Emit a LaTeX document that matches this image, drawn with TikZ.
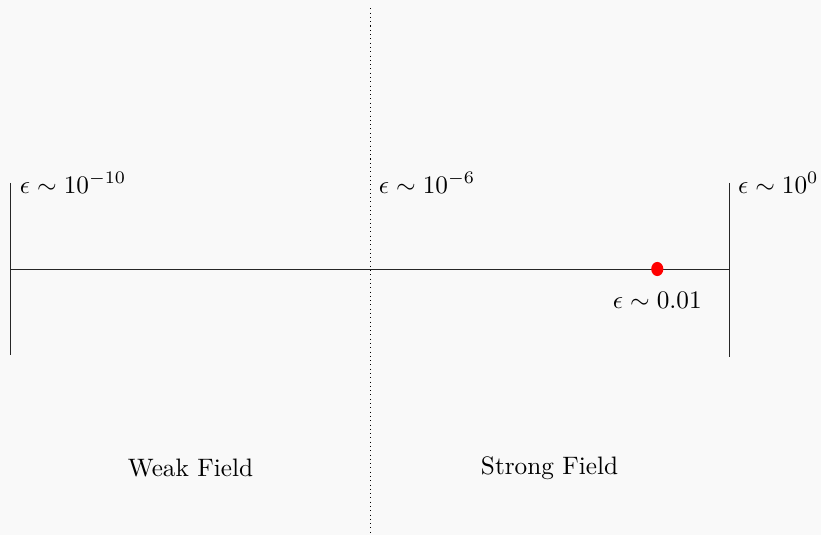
\documentclass[tikz,border=0pt]{standalone}
\usetikzlibrary{positioning,shapes.geometric}
\begin{document}
\begin{tikzpicture}[
  axisline/.style={line width=0.4pt, black!85},
  divider/.style={line width=0.4pt, dash pattern=on 0.4pt off 1.3pt},
  lbl/.style={inner sep=3.33pt},
  marker/.style={ellipse, fill=red, draw=none, minimum width=4.8pt, minimum height=5.6pt, inner sep=0pt}
]
\fill[gray!5] (-0.153,-3.705) rectangle (11.28,3.746);
\useasboundingbox (-0.153,-3.705) rectangle (11.28,3.746);

\coordinate (L) at (0,0);
\coordinate (R) at (10,0);
\coordinate (Lt) at (0,1.2);
\coordinate (Lb) at (0,-1.2);
\coordinate (Rt) at (10,1.2);
\coordinate (Rb) at (10,-1.22);
\coordinate (Mt) at (5,3.63);
\coordinate (Mb) at (5,-3.705);
\coordinate (Mlab) at (5,1.2);

\draw[axisline] (L) -- (R);
\draw[axisline] (Lt) -- (Lb);
\draw[axisline] (Rt) -- (Rb);
\draw[divider] (Mt) -- (Mb);

\node[marker] (dot) at (9,0) {};
\node[lbl, below=2.8pt of dot] (dotlab) {$\epsilon \sim 0.01$};

\node[lbl, right] (lab1) at (Lt) {$\epsilon \sim 10^{-10}$};
\node[lbl, right] (lab2) at (Mlab) {$\epsilon \sim 10^{-6}$};
\node[lbl, right] (lab3) at (Rt) {$\epsilon \sim 10^{0}$};

\node[lbl] (weak) at (2.5,-2.77) {Weak Field};
\node[lbl] (strong) at (7.5,-2.77) {Strong Field};
\end{tikzpicture}
\end{document}
